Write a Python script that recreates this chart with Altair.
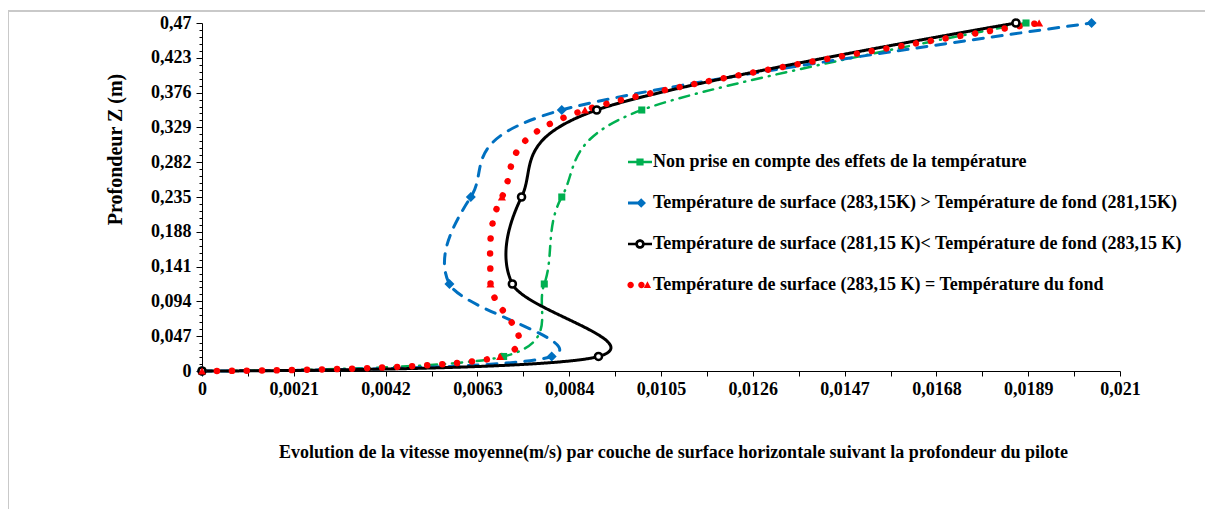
import altair as alt
import pandas as pd

# ---- data ----
z_levels = [0, 0.0196, 0.1175, 0.235, 0.3525, 0.47]
v_green = [0, 0.0069, 0.00783, 0.00823, 0.01006, 0.01885]
v_blue = [0, 0.0080, 0.00566, 0.00615, 0.00823, 0.02035]
v_black = [0, 0.00907, 0.0071, 0.00731, 0.00903, 0.01862]
v_red = [0, 0.00682, 0.0066, 0.00686, 0.00876, 0.01915]

names = [
    "Non prise en compte des effets de la température",
    "Température de surface (283,15K) > Température de fond (281,15K)",
    "Température de surface (281,15 K)< Température de fond (283,15 K)",
    "Température de surface (283,15 K) = Température du fond",
]
colors = ["#00b050", "#0070c0", "#000000", "#ff0000"]

x_ticks = [round(k * 0.00105, 5) for k in range(21)]
y_ticks = [round(k * 0.0094, 4) for k in range(51)]

rows = []
for name, vals in zip(names, [v_green, v_blue, v_black, v_red]):
    for i, (v, z) in enumerate(zip(vals, z_levels)):
        rows.append({"series": name, "v": v, "z": z, "i": i})
df = pd.DataFrame(rows)

FONT = "Liberation Serif"
FS = 18
MAJOR_Y = "abs(round(datum.value/0.047)*0.047 - datum.value) < 0.0001"

x_enc = alt.X(
    "v:Q",
    scale=alt.Scale(domain=[0, 0.021], nice=False, zero=False),
    axis=alt.Axis(
        title="Evolution de la vitesse moyenne(m/s) par couche de surface horizontale suivant la profondeur du pilote",
        values=x_ticks,
        tickCount=100,
        labelExpr="round(datum.value/0.00105) % 2 == 0 ? replace(format(datum.value, '.4~f'), '.', ',') : ''",
        labelOverlap=False,
        tickSize=5,
        labelPadding=4,
        titleX=471,
        titleY=81,
        titleAlign="center",
        titleBaseline="middle",
    ),
)
y_enc = alt.Y(
    "z:Q",
    scale=alt.Scale(domain=[0, 0.47], nice=False, zero=False),
    axis=alt.Axis(
        title="Profondeur  Z (m)",
        values=y_ticks,
        tickCount=100,
        labelExpr=MAJOR_Y + " ? replace(format(datum.value, '.3~f'), '.', ',') : ''",
        labelOverlap=False,
        tickSize={"condition": {"test": MAJOR_Y, "value": 6}, "value": 3},
        labelPadding=5,
        titleX=-87,
        titleY=126,
        titleFontSize=20,
        titleAlign="center",
        titleBaseline="middle",
    ),
)


def sub(name):
    return alt.Chart(df).transform_filter(alt.datum.series == name)


def line(name, color, dash, width):
    return sub(name).mark_line(
        interpolate="cardinal", strokeCap="round", color=color, strokeDash=dash, strokeWidth=width
    ).encode(x=x_enc, y=y_enc, order="i:Q")


l_green = line(names[0], colors[0], [10, 7, 1, 7], 2.5)
l_blue = line(names[1], colors[1], [10, 9], 3)
l_black = line(names[2], colors[2], [1, 0], 3)
l_red = line(names[3], colors[3], [0.01, 15], 6.5)


def pts(name, **kw):
    return sub(name).mark_point(**kw).encode(x="v:Q", y="z:Q")


p_green = pts(names[0], shape="square", filled=True, color=colors[0], size=50, opacity=1)
p_blue = pts(names[1], shape="diamond", filled=True, color=colors[1], size=100, opacity=1)
p_black = pts(names[2], shape="circle", filled=True, fill="white", stroke="black", strokeWidth=2.5, size=50, opacity=1)
p_red = pts(names[3], shape="triangle-up", filled=True, color=colors[3], size=65, opacity=1)

sym_green = "M-1,-0.11L1,-0.11L1,0.11L-1,0.11Z M-0.3,-0.3L0.3,-0.3L0.3,0.3L-0.3,0.3Z"
sym_blue = "M-1,-0.12L0.1,-0.12L0.1,0.12L-1,0.12Z M0.1,-0.4L0.5,0L0.1,0.4L-0.3,0Z"
sym_black = ("M-1,-0.11L-0.3,-0.11L-0.3,0.11L-1,0.11Z M0.3,-0.11L1,-0.11L1,0.11L0.3,0.11Z "
             "M-0.4,0A0.4,0.4 0 1,1 0.4,0A0.4,0.4 0 1,1 -0.4,0Z "
             "M-0.17,0A0.17,0.17 0 1,0 0.17,0A0.17,0.17 0 1,0 -0.17,0Z")
sym_red = ("M-1.05,0A0.27,0.27 0 1,1 -0.51,0A0.27,0.27 0 1,1 -1.05,0Z "
           "M-0.15,0A0.27,0.27 0 1,1 0.39,0A0.27,0.27 0 1,1 -0.15,0Z "
           "M0.62,-0.32L0.92,0.25L0.32,0.25Z")
symbols = [sym_green, sym_blue, sym_black, sym_red]

leg = alt.Legend(
    title=None,
    orient="none",
    legendX=426,
    legendY=127,
    symbolSize=576,
    symbolStrokeWidth=0,
    labelFont=FONT,
    labelFontSize=FS,
    labelFontWeight="bold",
    labelColor="black",
    labelOffset=1,
    rowPadding=20,
    labelLimit=800,
    padding=0,
)
legend_layer = alt.Chart(df).transform_filter("datum.z < 0").mark_point(filled=True, opacity=1).encode(
    x="v:Q",
    y="z:Q",
    color=alt.Color("series:N", scale=alt.Scale(domain=names, range=colors), legend=leg),
    shape=alt.Shape("series:N", scale=alt.Scale(domain=names, range=symbols), legend=leg),
)

frame_top = alt.Chart(df).mark_rule(color="#c8c8c8", strokeWidth=1.5).encode(
    x=alt.value(-194), x2=alt.value(1020), y=alt.value(-12)
)
frame_left = alt.Chart(df).mark_rule(color="#c8c8c8", strokeWidth=1.5).encode(
    x=alt.value(-194), y=alt.value(-12), y2=alt.value(501)
)

chart = alt.layer(
    frame_top, frame_left,
    l_green, l_blue, l_black, l_red,
    p_green, p_blue, p_black, p_red,
    legend_layer,
).properties(
    width=918,
    height=348,
    background="white",
    autosize=alt.AutoSizeParams(type="none"),
    padding={"left": 194, "top": 15, "right": 85, "bottom": 138},
).configure_view(stroke=None).configure_axis(
    grid=False,
    domainColor="black",
    domainWidth=1,
    tickColor="black",
    tickWidth=1,
    labelFont=FONT,
    labelFontSize=FS,
    labelFontWeight="bold",
    labelColor="black",
    titleFont=FONT,
    titleFontSize=FS,
    titleFontWeight="bold",
    titleColor="black",
    labelFlush=False,
)

chart.save("out.html", embed_options={"renderer": "svg", "actions": False})
